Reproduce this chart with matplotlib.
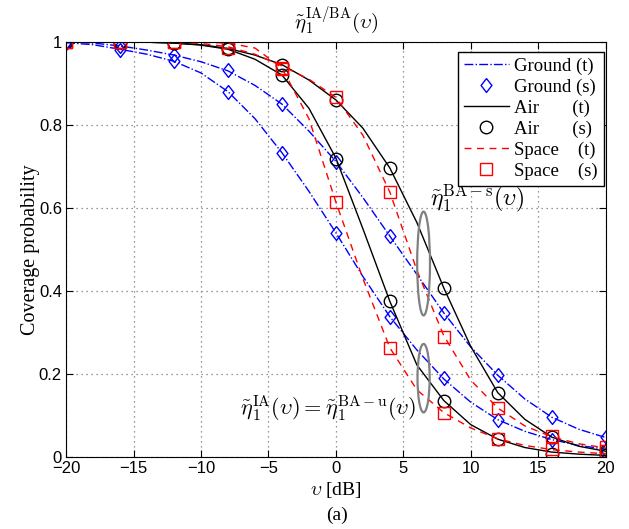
import matplotlib
matplotlib.use("Agg")
import matplotlib.pyplot as plt
from matplotlib.patches import Ellipse

plt.rcParams['mathtext.fontset'] = 'cm'
plt.rcParams['font.family'] = ['Liberation Serif', 'DejaVu Serif']

# threshold values in dB (theory curves and simulation points)
V_THEORY = [-20, -18, -16, -14, -12, -10, -8, -6, -4, -2, 0, 2, 4, 6, 8, 10, 12, 14, 16, 18, 20]
V_SIM = [-20, -16, -12, -8, -4, 0, 4, 8, 12, 16, 20]

# theory (t): BA-s = upper curve, IA = lower curve
GROUND_BA_T = [1.0, 0.997, 0.99, 0.98, 0.968, 0.952, 0.93, 0.895, 0.85, 0.785, 0.712,
               0.625, 0.532, 0.44, 0.347, 0.265, 0.197, 0.14, 0.096, 0.067, 0.047]
GROUND_IA_T = [0.998, 0.993, 0.982, 0.97, 0.953, 0.925, 0.88, 0.815, 0.733, 0.64, 0.54,
               0.435, 0.338, 0.258, 0.188, 0.132, 0.09, 0.062, 0.042, 0.028, 0.019]
AIR_BA_T = [1.0, 1.0, 1.0, 0.999, 0.997, 0.993, 0.984, 0.968, 0.945, 0.908, 0.86,
            0.792, 0.696, 0.565, 0.407, 0.266, 0.155, 0.091, 0.048, 0.026, 0.014]
AIR_IA_T = [1.0, 1.0, 1.0, 0.999, 0.997, 0.992, 0.982, 0.958, 0.92, 0.84, 0.72,
            0.55, 0.375, 0.222, 0.136, 0.078, 0.043, 0.023, 0.012, 0.007, 0.004]
SPACE_BA_T = [1.0, 1.0, 1.0, 1.0, 0.999, 0.996, 0.988, 0.97, 0.942, 0.91, 0.866,
              0.775, 0.638, 0.45, 0.292, 0.185, 0.118, 0.075, 0.049, 0.032, 0.022]
SPACE_IA_T = [1.0, 1.0, 1.0, 1.0, 1.0, 0.999, 0.997, 0.985, 0.937, 0.815, 0.614,
              0.43, 0.263, 0.162, 0.107, 0.07, 0.044, 0.028, 0.018, 0.012, 0.008]

# simulation (s)
GROUND_BA_S = [1.0, 0.99, 0.969, 0.933, 0.85, 0.711, 0.532, 0.347, 0.198, 0.096, 0.048]
GROUND_IA_S = [0.998, 0.98, 0.953, 0.88, 0.733, 0.54, 0.338, 0.19, 0.089, 0.042, 0.018]
AIR_BA_S = [1.0, 1.0, 0.998, 0.985, 0.945, 0.859, 0.696, 0.407, 0.155, 0.048, 0.014]
AIR_IA_S = [1.0, 1.0, 0.998, 0.983, 0.92, 0.718, 0.375, 0.136, 0.043, 0.008, 0.004]
SPACE_BA_S = [1.0, 1.0, 1.0, 0.985, 0.934, 0.867, 0.638, 0.29, 0.118, 0.05, 0.024]
SPACE_IA_S = [1.0, 1.0, 1.0, 0.999, 0.938, 0.614, 0.263, 0.107, 0.043, 0.019, 0.015]

DIAMOND = [(0, 1), (0.78, 0), (0, -1), (-0.78, 0), (0, 1)]

fig = plt.figure(figsize=(6.29, 5.29), dpi=100)
ax = fig.add_axes([0.105, 0.136, 0.858, 0.785])

# ground
ax.plot(V_THEORY, GROUND_IA_T, '-.', color='#0000ff', lw=1, label='Ground (t)')
ax.plot(V_THEORY, GROUND_BA_T, '-.', color='#0000ff', lw=1)
ax.plot(V_SIM, GROUND_IA_S, ls='none', marker=DIAMOND, ms=10, mfc='none', mec='#0000ff', mew=1, label='Ground (s)')
ax.plot(V_SIM, GROUND_BA_S, ls='none', marker=DIAMOND, ms=10, mfc='none', mec='#0000ff', mew=1)
# air
ax.plot(V_THEORY, AIR_IA_T, '-', color='black', lw=1, label='Air       (t)')
ax.plot(V_THEORY, AIR_BA_T, '-', color='black', lw=1)
ax.plot(V_SIM, AIR_IA_S, ls='none', marker='o', ms=9, mfc='none', mec='black', mew=1, label='Air       (s)')
ax.plot(V_SIM, AIR_BA_S, ls='none', marker='o', ms=9, mfc='none', mec='black', mew=1)
# space
ax.plot(V_THEORY, SPACE_IA_T, '--', color='#ff0000', lw=1, dashes=(5, 4), label='Space    (t)')
ax.plot(V_THEORY, SPACE_BA_T, '--', color='#ff0000', lw=1, dashes=(5, 4))
ax.plot(V_SIM, SPACE_IA_S, ls='none', marker='s', ms=8, mfc='none', mec='#ff0000', mew=1, label='Space    (s)')
ax.plot(V_SIM, SPACE_BA_S, ls='none', marker='s', ms=8, mfc='none', mec='#ff0000', mew=1)

# ellipses grouping the curves
ax.add_patch(Ellipse((6.5, 0.466), 0.95, 0.25, fill=False, edgecolor='#808080', lw=1.6, zorder=5))
ax.add_patch(Ellipse((6.5, 0.19), 0.9, 0.165, fill=False, edgecolor='#808080', lw=1.6, zorder=5))

ax.text(6.95, 0.624, r'$\tilde{\eta}_1^{\mathrm{BA-s}}(\upsilon)$', fontsize=17, va='center', ha='left')
ax.text(-7.1, 0.116, r'$\tilde{\eta}_1^{\mathrm{IA}}(\upsilon)=\tilde{\eta}_1^{\mathrm{BA-u}}(\upsilon)$',
        fontsize=16, va='center', ha='left')

ax.set_xlim(-20, 20)
ax.set_ylim(0, 1)
ax.set_xticks(range(-20, 21, 5))
ax.set_yticks([0, 0.2, 0.4, 0.6, 0.8, 1])
ax.set_yticklabels(['0', '0.2', '0.4', '0.6', '0.8', '1'])
ax.tick_params(direction='in', top=True, right=True, labelsize=12, length=5, pad=3)
for lbl in ax.get_xticklabels() + ax.get_yticklabels():
    lbl.set_fontfamily('Liberation Sans')
ax.grid(True, color='#777777', lw=0.9, dashes=(1, 3))

ax.set_title(r'$\tilde{\eta}_1^{\mathrm{IA/BA}}(\upsilon)$', fontsize=15, pad=9)
ax.set_xlabel(r'$\upsilon$ [dB]', fontsize=14, labelpad=3)
ax.set_ylabel('Coverage probability', fontsize=14.5, labelpad=-1)
fig.text(0.535, 0.026, '(a)', fontsize=14, ha='center', va='center')

leg = ax.legend(loc='upper right', bbox_to_anchor=(0.996, 0.976), fontsize=13.5,
                fancybox=False, framealpha=1, edgecolor='black', labelspacing=0.2,
                handlelength=2.4, handletextpad=0.3, borderaxespad=0, borderpad=0.3)
leg.get_frame().set_linewidth(1)

fig.savefig('out.png', dpi=100)
